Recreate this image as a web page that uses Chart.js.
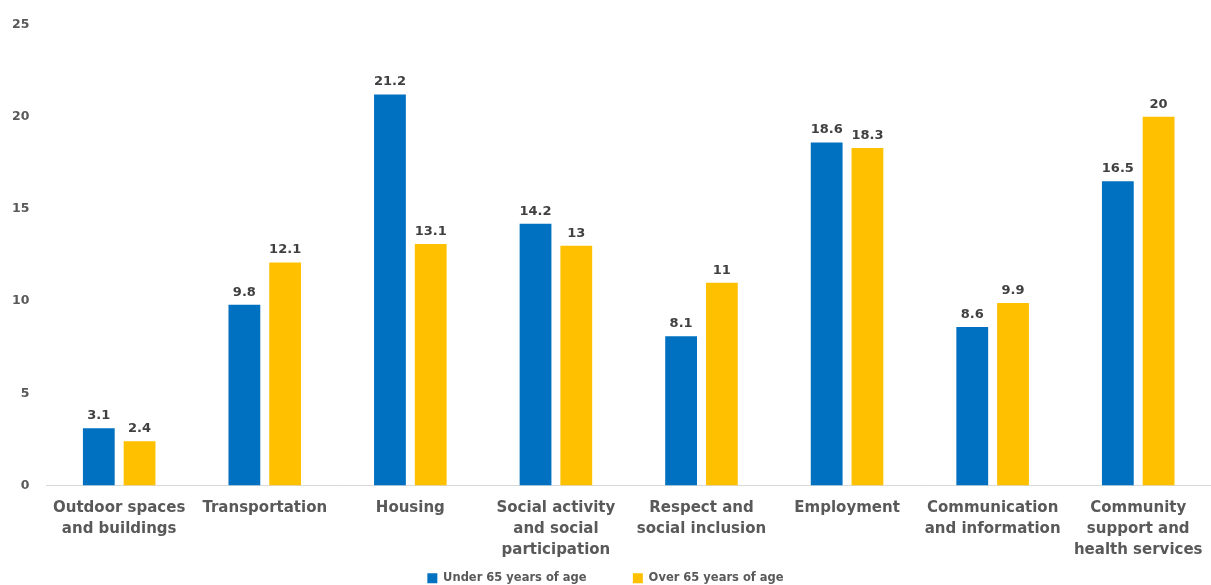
<!DOCTYPE html>
<html>
<head>
<meta charset="utf-8">
<script src="https://cdn.jsdelivr.net/npm/chart.js@4"></script>
<style>
  html, body { margin: 0; padding: 0; background: #fff; }
  #wrap { width: 1211px; height: 585px; position: relative; }
</style>
</head>
<body>
<div id="wrap"><canvas id="chart"></canvas></div>
<script>
var CATEGORIES = [
  ["Outdoor spaces", "and buildings"],
  "Transportation",
  "Housing",
  ["Social activity", "and social", "participation"],
  ["Respect and", "social inclusion"],
  "Employment",
  ["Communication", "and information"],
  ["Community", "support and", "health services"]
];
var UNDER_65 = [3.1, 9.8, 21.2, 14.2, 8.1, 18.6, 8.6, 16.5];
var OVER_65 = [2.4, 12.1, 13.1, 13, 11, 18.3, 9.9, 20];
var Y_TICKS = [0, 5, 10, 15, 20, 25];

var FONT = "'DejaVu Sans', Verdana, sans-serif";
var GREY = "#595959";

// draw the value above each bar
var valueLabels = {
  id: "valueLabels",
  afterDatasetsDraw: function (chart) {
    var ctx = chart.ctx;
    ctx.save();
    ctx.font = "bold 13px " + FONT;
    ctx.fillStyle = "#404040";
    ctx.textAlign = "center";
    ctx.textBaseline = "bottom";
    chart.data.datasets.forEach(function (ds, i) {
      chart.getDatasetMeta(i).data.forEach(function (bar, j) {
        ctx.fillText(String(ds.data[j]), bar.x, bar.y - 6);
      });
    });
    ctx.restore();
  }
};

new Chart(document.getElementById("chart"), {
  type: "bar",
  data: {
    labels: CATEGORIES,
    datasets: [
      { label: "Under 65 years of age", data: UNDER_65, backgroundColor: "#0070C0" },
      { label: "Over 65 years of age", data: OVER_65, backgroundColor: "#FFC000" }
    ]
  },
  options: {
    responsive: true,
    maintainAspectRatio: false,
    animation: false,
    categoryPercentage: 0.56,
    barPercentage: 0.78,
    layout: { padding: { top: 16, left: 0, right: 0, bottom: -9 } },
    plugins: {
      tooltip: { enabled: false },
      legend: {
        position: "bottom",
        labels: {
          color: GREY,
          font: { family: FONT, size: 11.5, weight: "bold" },
          boxWidth: 10,
          boxHeight: 10,
          padding: 6,
          generateLabels: function (chart) {
            var items = Chart.defaults.plugins.legend.labels.generateLabels(chart);
            // wider gap between the two entries without adding vertical space
            if (items.length) items[0].text += "\u2003\u2003\u2003\u2002";
            return items;
          }
        }
      }
    },
    scales: {
      x: {
        grid: { display: false, drawTicks: false },
        border: { display: true, color: "#D9D9D9", width: 1 },
        ticks: {
          color: GREY,
          font: { family: FONT, size: 15, weight: "bold", lineHeight: 1.4 },
          padding: 12,
          maxRotation: 0,
          autoSkip: false
        },
        afterFit: function (scale) {
          scale.height -= 6;
          scale.paddingRight = 0; // let the last category run to the edge
        }
      },
      y: {
        min: 0,
        max: 25,
        afterBuildTicks: function (axis) {
          axis.ticks = Y_TICKS.map(function (v) { return { value: v }; });
        },
        afterFit: function (scale) {
          scale.width -= 5;
        },
        grid: { display: false, drawTicks: false },
        border: { display: false },
        ticks: {
          color: GREY,
          font: { family: FONT, size: 12.5, weight: "bold" },
          padding: 17
        }
      }
    }
  },
  plugins: [valueLabels]
});
</script>
</body>
</html>
